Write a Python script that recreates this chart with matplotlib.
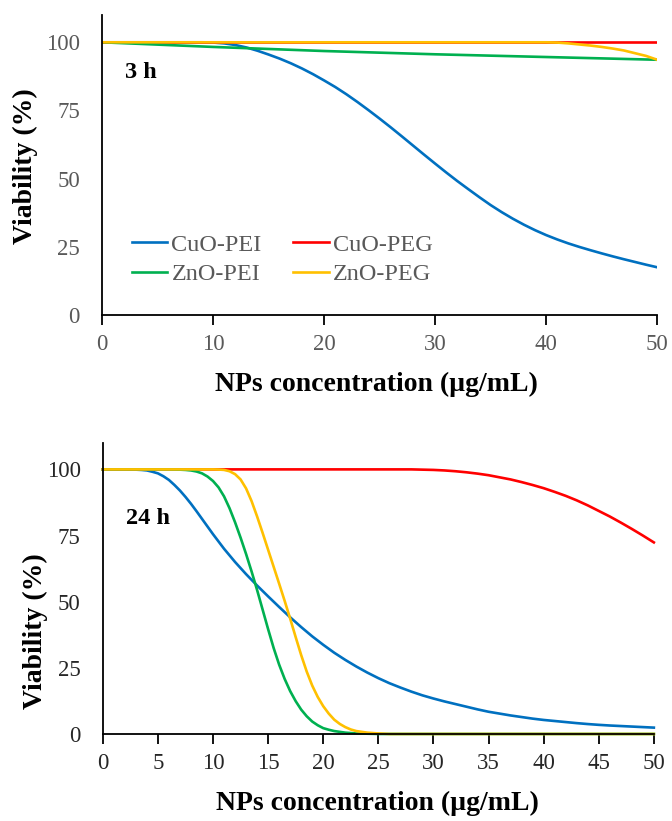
import matplotlib
matplotlib.use('Agg')
import matplotlib.pyplot as plt

plt.rcParams['font.family'] = ['Liberation Serif', 'DejaVu Serif']

# 3 h data
conc_3h = list(range(0, 51))
cuo_pei_3h = [100, 100, 100, 100, 100, 100, 100, 100, 100, 100, 99.9, 99.6, 99.0, 98.1,
              96.9, 95.5, 94.0, 92.3, 90.4, 88.3, 86.0, 83.6, 80.95, 78.1, 75.1, 72.0,
              68.8, 65.5, 62.15, 58.8, 55.5, 52.25, 49.1, 46.1, 43.15, 40.3, 37.7, 35.3,
              33.1, 31.1, 29.3, 27.7, 26.25, 24.95, 23.75, 22.6, 21.5, 20.45, 19.45,
              18.45, 17.5]
conc_3h_lin = [0, 10, 20, 30, 40, 50]
zno_pei_3h = [100, 98.3, 96.8, 95.6, 94.6, 93.6]
cuo_peg_3h = [100, 100, 100, 100, 100, 100]
conc_3h_peg = [0, 10, 20, 30, 38, 40, 41, 42, 43, 44, 45, 46, 47, 48, 49, 50]
zno_peg_3h = [100, 100, 100, 100, 100, 100, 99.9, 99.6, 99.2, 98.8, 98.3, 97.7, 97,
              96, 95, 93.6]

# 24 h data
conc_24h_cuo_pei = [0, 1, 2, 3, 3.5, 4, 4.5, 5, 5.5, 6, 6.5, 7, 7.5, 8, 8.5, 9, 9.5, 10,
                    11, 12, 13, 14, 15, 16, 17, 18, 19, 20, 21, 22, 23, 24, 25, 26, 27,
                    28, 29, 30, 31, 32, 33, 34, 35, 36, 37, 38, 39, 40, 41, 42, 43, 44,
                    45, 46, 47, 48, 49, 50]
cuo_pei_24h = [100, 100, 100, 99.9, 99.8, 99.6, 99.1, 98.5, 97.4, 96.0, 94.1, 92.0, 89.6,
               87.0, 84.2, 81.3, 78.4, 75.5, 70.0, 65.0, 60.4, 56.1, 52.0, 48.0, 44.1,
               40.4, 36.9, 33.7, 30.7, 28.0, 25.5, 23.2, 21.1, 19.2, 17.55, 16.0, 14.6,
               13.4, 12.3, 11.3, 10.3, 9.3, 8.4, 7.7, 7.0, 6.4, 5.8, 5.3, 4.9, 4.5, 4.1,
               3.75, 3.45, 3.2, 3.0, 2.8, 2.6, 2.4]
conc_24h_zno_pei = [0, 5, 6, 7, 7.5, 8, 8.5, 9, 9.5, 10, 10.5, 11, 11.5, 12, 12.5, 13,
                    13.5, 14, 14.5, 15, 15.5, 16, 16.5, 17, 17.5, 18, 18.5, 19, 19.5, 20,
                    20.5, 21, 22, 23, 24, 25, 30, 40, 50]
zno_pei_24h = [100, 100, 100, 99.9, 99.8, 99.6, 99.2, 98.5, 97.3, 95.6, 93.2, 89.8, 85.3,
               80.0, 74.2, 68.0, 61.4, 54.4, 47, 39.6, 32.5, 26.2, 20.8, 16.2, 12.4, 9.2,
               6.7, 4.7, 3.3, 2.2, 1.6, 1.1, 0.5, 0.2, 0.1, 0, 0, 0, 0]
conc_24h_cuo_peg = list(range(0, 51))
cuo_peg_24h = [100] * 29 + [99.9, 99.8, 99.6, 99.3, 98.9, 98.4, 97.8, 97, 96.2, 95.2,
                            94.1, 92.9, 91.5, 90, 88.3, 86.4, 84.3, 82.2, 79.9, 77.5,
                            75, 72.4]
conc_24h_zno_peg = [0, 5, 10, 10.5, 11, 11.5, 12, 12.5, 13, 13.5, 14, 14.5, 15, 15.5, 16,
                    16.5, 17, 17.5, 18, 18.5, 19, 19.5, 20, 20.5, 21, 21.5, 22, 22.5, 23,
                    24, 25, 26, 30, 40, 50]
zno_peg_24h = [100, 100, 100, 99.95, 99.8, 99.3, 98.2, 96.2, 92.8, 88.0, 82.2, 76.0, 69.6,
               63.2, 56.8, 50.3, 43.6, 36.6, 29.8, 23.6, 18.3, 14, 10.5, 7.7, 5.4, 3.8,
               2.6, 1.7, 1.1, 0.5, 0.2, 0, 0, 0, 0]

colors = {'CuO-PEI': '#0070C0', 'ZnO-PEI': '#00B050',
          'CuO-PEG': '#FF0000', 'ZnO-PEG': '#FFC000'}

fig = plt.figure(figsize=(6.72, 8.21), dpi=100)
ax1 = fig.add_axes([0.152, 0.6163, 0.826, 0.3654])
ax2 = fig.add_axes([0.153, 0.106, 0.820, 0.3545])


def style_axes(ax, xticks, tick_color, label_x, label_y, ylab_x, ylab_y):
    ax.set_xlim(0, 50)
    ax.set_ylim(0, 110)
    ax.set_xticks(xticks)
    ax.set_yticks([0, 25, 50, 75, 100])
    for s in ['top', 'right']:
        ax.spines[s].set_visible(False)
    for s in ['left', 'bottom']:
        ax.spines[s].set_linewidth(1.3)
    ax.tick_params(axis='x', direction='out', length=7, width=1.3, pad=7,
                   labelsize=16.5, labelcolor=tick_color)
    ax.tick_params(axis='y', length=0, pad=16, labelsize=16.5, labelcolor=tick_color)
    ax.set_xlabel('NPs concentration (µg/mL)', fontsize=20, fontweight='bold', va='center')
    ax.set_ylabel('Viability (%)', fontsize=20, fontweight='bold', va='center')
    ax.xaxis.set_label_coords(label_x, label_y)
    ax.yaxis.set_label_coords(ylab_x, ylab_y)


lw = 1.9
l1, = ax1.plot(conc_3h, cuo_pei_3h, color=colors['CuO-PEI'], lw=lw, label='CuO-PEI')
l3, = ax1.plot(conc_3h_lin, cuo_peg_3h, color=colors['CuO-PEG'], lw=lw, label='CuO-PEG')
l2, = ax1.plot(conc_3h_lin, zno_pei_3h, color=colors['ZnO-PEI'], lw=lw, label='ZnO-PEI')
l4, = ax1.plot(conc_3h_peg, zno_peg_3h, color=colors['ZnO-PEG'], lw=lw, label='ZnO-PEG')
style_axes(ax1, [0, 10, 20, 30, 40, 50], '#595959', 0.494, -0.233, -0.139, 0.497)
ax1.text(0.041, 0.81, '3 h', transform=ax1.transAxes, fontsize=17.5,
         fontweight='bold', va='center', ha='left')
ax1.legend(handles=[l1, l2, l3, l4], ncol=2, loc='center left',
           bbox_to_anchor=(0.054, 0.185), frameon=False, fontsize=17.5,
           labelcolor='#595959', handlelength=1.45, handletextpad=0.17,
           columnspacing=1.3, labelspacing=0.3, borderpad=0, borderaxespad=0)

ax2.plot(conc_24h_cuo_pei, cuo_pei_24h, color=colors['CuO-PEI'], lw=lw, clip_on=False)
ax2.plot(conc_24h_cuo_peg, cuo_peg_24h, color=colors['CuO-PEG'], lw=lw, clip_on=False)
ax2.plot(conc_24h_zno_pei, zno_pei_24h, color=colors['ZnO-PEI'], lw=lw, clip_on=False)
ax2.plot(conc_24h_zno_peg, zno_peg_24h, color=colors['ZnO-PEG'], lw=lw, clip_on=False)
style_axes(ax2, list(range(0, 51, 5)), '#262626', 0.499, -0.237, -0.122, 0.354)
ax2.text(0.042, 0.742, '24 h', transform=ax2.transAxes, fontsize=17.5,
         fontweight='bold', va='center', ha='left')

fig.savefig('out.png', dpi=100)
plt.close(fig)
